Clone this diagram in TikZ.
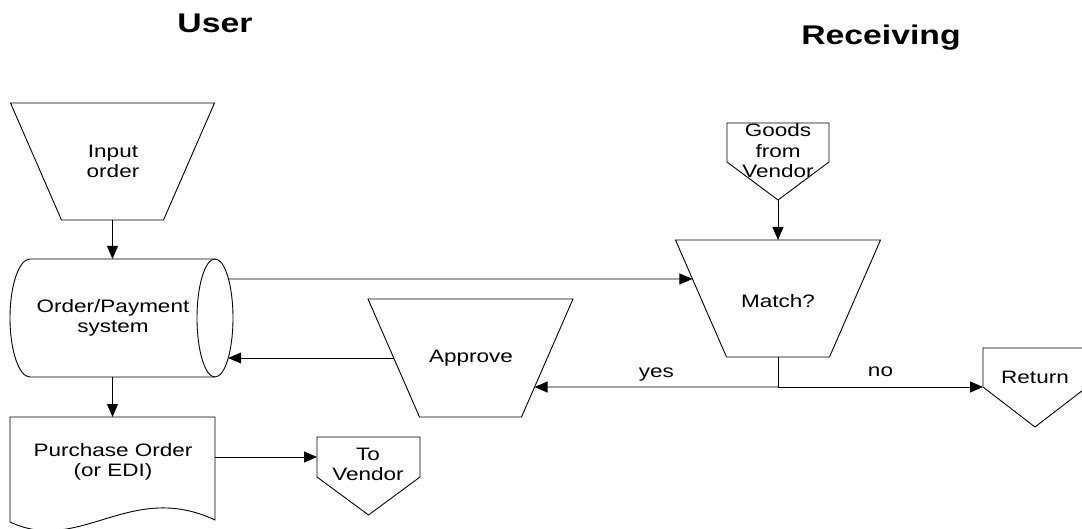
\documentclass[tikz,border=0pt]{standalone}
\usepackage{fontspec}
\setmainfont{Liberation Sans}[FakeStretch=1.25]
\usetikzlibrary{calc,arrows.meta}
\begin{document}
\begin{tikzpicture}[x=1pt,y=-1pt,
  ln/.style={draw=black, line width=0.9pt, line join=miter},
  arr/.style={ln, -{Triangle[length=13pt,width=11pt]}},
  frame/.style={inner sep=0pt, outer sep=0pt, draw=none},
  txt/.style={font=\fontsize{18pt}{20.5pt}\selectfont, align=center, inner sep=0pt},
  head/.style={font=\fontsize{27pt}{30pt}\selectfont\bfseries, inner sep=0pt, anchor=base},
  edgelbl/.style={font=\fontsize{18pt}{20.5pt}\selectfont, inner sep=0pt, anchor=base, midway, yshift=10pt}]

\useasboundingbox (0,0) rectangle (1082,529);

% lane headings
\node[head] (user) at (215,33) {User};
\node[head] (recv) at (881,45) {Receiving};

% shape frames
\node[frame, minimum width=204pt, minimum height=117pt] (input) at (112.5,161.5) {};
\node[frame, minimum width=205pt, minimum height=118pt] (cyl) at (112.5,318) {};
\node[frame, minimum width=205pt, minimum height=105pt] (doc) at (112.5,469.5) {};
\node[frame, minimum width=103pt, minimum height=40pt] (tov) at (368.5,457) {};
\node[frame, minimum width=205pt, minimum height=118pt] (approve) at (470.5,358) {};
\node[frame, minimum width=205pt, minimum height=117pt] (match) at (778,298.5) {};
\node[frame, minimum width=102pt, minimum height=39pt] (goods) at (778,142.5) {};
\node[frame, minimum width=104pt, minimum height=39pt] (ret) at (1035,367.5) {};

% manual input
\draw[ln] (input.north west) -- (input.north east) -- ([xshift=-51pt]input.south east) -- ([xshift=51pt]input.south west) -- cycle;

% stored data (drum)
\draw[ln] (cyl.north east) -- ([xshift=20pt]cyl.north west)
  arc[start angle=90, end angle=270, x radius=20pt, y radius=59pt] -- (cyl.south east);
\draw[ln] (cyl.east) ellipse[x radius=18pt, y radius=59pt];

% document
\draw[ln] (doc.south west) -- (doc.north west) -- (doc.north east) -- ([yshift=2pt]doc.south east)
  .. controls ($(doc.south west)+(120,-42)$) and ($(doc.south west)+(70,33)$) .. (doc.south west);

% manual operations
\draw[ln] (approve.north west) -- (approve.north east) -- ([xshift=-51.5pt]approve.south east) -- ([xshift=51.5pt]approve.south west) -- cycle;
\draw[ln] (match.north west) -- (match.north east) -- ([xshift=-51pt]match.south east) -- ([xshift=51pt]match.south west) -- cycle;

% off-page connectors
\draw[ln] (tov.north west) -- (tov.north east) -- (tov.south east) -- ([yshift=-38pt]tov.south) -- (tov.south west) -- cycle;
\draw[ln] (goods.north west) -- (goods.north east) -- (goods.south east) -- ([yshift=-38pt]goods.south) -- (goods.south west) -- cycle;
\draw[ln] (ret.north west) -- (ret.north east) -- (ret.south east) -- ([yshift=-40pt]ret.south) -- (ret.south west) -- cycle;

% texts
\node[txt] (inputt) at (113,161.5) {Input\\order};
\node[txt] (cylt) at (113,318) {Order/Payment\\system};
\node[txt] (doct) at (113,462) {Purchase Order\\(or EDI)};
\node[txt] (tovt) at (368,464.5) {To\\Vendor};
\node[txt] (apprt) at (471,358.5) {Approve};
\node[txt] (matcht) at (778,301) {Match?};
\node[txt] (goodst) at (778,151) {Goods\\from\\Vendor};
\node[txt] (rett) at (1035,377.5) {Return};

% edge points
\coordinate (matchin) at ($(match.north west)!0.333!([xshift=51pt]match.south west)$);
\coordinate (apprin) at ($(approve.north east)!0.746!([xshift=-51.5pt]approve.south east)$);
\coordinate (approut) at ($(approve.north west)!0.5!([xshift=51.5pt]approve.south west)$);
\coordinate (cylout) at ($(cyl.east)+(13.5,-39)$);
\coordinate (cylin) at ($(cyl.east)+(13.2,40)$);

% connectors
\draw[arr] (input.south) -- (cyl.north);
\draw[arr] (cyl.south) -- (doc.north);
\draw[arr] (doc.east |- tov.west) -- (tov.west);
\draw[arr] ([yshift=-38pt]goods.south) -- (match.north);
\draw[arr] (cylout) -- (matchin);
\draw[arr] (approut) -- (cylin);
\draw[ln] (match.south) -- ++(0,30) coordinate (split);
\draw[arr] (split) -- (apprin) node[edgelbl] {yes};
\draw[arr] (split) -- (ret.south west) node[edgelbl] {no};
\end{tikzpicture}
\end{document}
